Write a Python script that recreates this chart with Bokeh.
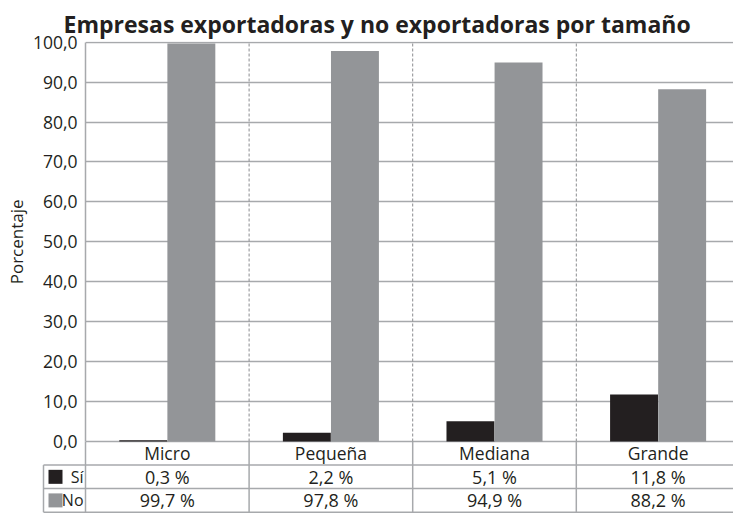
import math
from bokeh.plotting import figure
from bokeh.models import Range1d, FixedTicker, ColumnDataSource, CustomJSTickFormatter
from bokeh.core.properties import value
from bokeh.embed import file_html
from bokeh.resources import INLINE

# ---- data ----
categories = ["Micro", "Pequeña", "Mediana", "Grande"]
si_values = [0.3, 2.2, 5.1, 11.8]
no_values = [99.7, 97.8, 94.9, 88.2]
series_names = ["Sí", "No"]
y_ticks = [0, 10, 20, 30, 40, 50, 60, 70, 80, 90, 100]
title_text = "Empresas exportadoras y no exportadoras por tamaño"
y_label = "Porcentaje"

# ---- styles / layout constants ----
FONT = "Open Sans"
TXT = "#231f20"
C_SI = "#231f20"
C_NO = "#939598"
GRID = "#a7a9ac"
DASH = "#8a8c8f"

n = len(categories)
cat_px = 163.6            # pixels per category
px_per_unit = 3.993       # pixels per percentage point
frame_w = 648
x_end = frame_w / cat_px
bar_w = 0.293
offs = 0.147
row_h = 5.9               # table row height, in y units
y_top = 100 + 0.7 / px_per_unit
y_bot = -74 / px_per_unit
left_x = -42 / cat_px     # left border of the table's row-header column

p = figure(width=733, height=515, output_backend="svg", toolbar_location=None,
           x_range=Range1d(0, x_end), y_range=Range1d(y_bot, y_top),
           x_axis_location=None,
           min_border_left=85, min_border_right=0,
           min_border_bottom=0, min_border_top=41)
p.outline_line_color = None
p.xgrid.visible = False

p.title.text = title_text
p.title.text_font = FONT
p.title.text_font_style = "bold"
p.title.text_font_size = "23px"
p.title.text_color = TXT
p.title.align = "left"
p.title.vertical_align = "top"
p.title.offset = -22
p.title.standoff = 0

# ---- bars ----
xs = list(range(n))
src = ColumnDataSource(dict(
    x_si=[i + 0.5 - offs for i in xs],
    x_no=[i + 0.5 + offs for i in xs],
    si=si_values, no=no_values))
p.vbar(x="x_si", top="si", bottom=0, width=bar_w, source=src,
       fill_color=C_SI, line_color=None)
p.vbar(x="x_no", top="no", bottom=0, width=bar_w, source=src,
       fill_color=C_NO, line_color=None)

# ---- y axis ----
p.yaxis.ticker = FixedTicker(ticks=y_ticks)
p.yaxis.bounds = (y_ticks[0], y_ticks[-1])
p.yaxis.formatter = CustomJSTickFormatter(code="return tick.toFixed(1).replace('.', ',');")
p.yaxis.major_tick_out = 0
p.yaxis.major_tick_in = 0
p.yaxis.minor_tick_out = 0
p.yaxis.minor_tick_in = 0
p.yaxis.axis_line_color = GRID
p.yaxis.axis_line_width = 1.5
p.yaxis.major_label_text_font = FONT
p.yaxis.major_label_text_font_size = "17.5px"
p.yaxis.major_label_text_color = TXT
p.yaxis.major_label_standoff = 8

p.ygrid.ticker = FixedTicker(ticks=y_ticks)
p.ygrid.grid_line_color = GRID
p.ygrid.grid_line_width = 1.5

# axis title, centred on the 0-100 scale
p.text(x=[-69 / cat_px], y=[(y_ticks[0] + y_ticks[-1]) / 2], text=[y_label],
       angle=math.pi / 2, text_align="center", text_baseline="middle",
       text_font=value(FONT), text_font_size="17px", text_color=TXT, level="overlay")

# dashed separators between categories (chart area only)
sep = list(range(1, n))
p.segment(x0=sep, y0=[0] * len(sep), x1=sep, y1=[y_ticks[-1]] * len(sep),
          line_color=DASH, line_width=1, line_dash="3 2")

# ---- data table under the chart ----
row_lines = [-row_h, -2 * row_h, -3 * row_h]
p.segment(x0=[left_x] * 3, y0=row_lines, x1=[n] * 3, y1=row_lines,
          line_color=GRID, line_width=1.5, level="overlay")
vx = [left_x] + list(range(n))
vy0 = [-row_h] + [0] * n
p.segment(x0=vx, y0=vy0, x1=vx, y1=[-3 * row_h] * (n + 1),
          line_color=GRID, line_width=1.5, level="overlay")

def fmt(v):
    return f"{v:.1f}".replace(".", ",") + " %"

tsrc = ColumnDataSource(dict(
    x=[i + 0.5 for i in xs],
    cat=categories,
    si=[fmt(v) for v in si_values],
    no=[fmt(v) for v in no_values],
    y_cat=[-0.5 * row_h] * n, y_si=[-1.5 * row_h] * n, y_no=[-2.5 * row_h] * n))
for col, ycol, fs in (("cat", "y_cat", "17.5px"), ("si", "y_si", "18px"), ("no", "y_no", "18px")):
    p.text(x="x", y=ycol, text=col, source=tsrc, text_font=value(FONT),
           text_font_size=fs, text_color=TXT, text_align="center",
           text_baseline="middle", level="overlay")

# row headers: colour swatch (thick short segment) + series name
sw_half = 7 / px_per_unit
row_c = [-1.5 * row_h, -2.5 * row_h]
hdr = ColumnDataSource(dict(
    sx=[-30 / cat_px] * 2, y0=[c - sw_half for c in row_c], y1=[c + sw_half for c in row_c],
    color=[C_SI, C_NO], tx=[-2 / cat_px] * 2, my=row_c, name=series_names))
p.segment(x0="sx", y0="y0", x1="sx", y1="y1", line_color="color", line_width=14,
          line_cap="butt", source=hdr, level="overlay")
p.text(x="tx", y="my", text="name", source=hdr, text_font=value(FONT),
       text_font_size="16px", text_color=TXT, text_align="right",
       text_baseline="middle", level="overlay")

open("out.html", "w").write(file_html(p, INLINE))
